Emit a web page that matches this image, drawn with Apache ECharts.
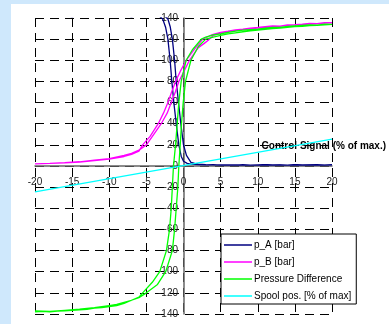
<!DOCTYPE html>
<html>
<head>
<meta charset="utf-8">
<script src="https://cdn.jsdelivr.net/npm/echarts@6/dist/echarts.min.js"></script>
<style>
html,body{margin:0;padding:0;background:#cfe8fc;}
#c{width:389px;height:324px;}
</style>
</head>
<body>
<div id="c"></div>
<script>
const xTicks = [-20, -15, -10, -5, 0, 5, 10, 15, 20];
const yTicks = [-140, -120, -100, -80, -60, -40, -20, 0, 20, 40, 60, 80, 100, 120, 140];
const seriesNames = ['p_A [bar]', 'p_B [bar]', 'Pressure Difference', 'Spool pos. [% of max]'];
const axisName = 'Control Signal (% of max.)';

// p_A: forward branch then return branch (hysteresis)
const pA = [
  [-20,142],[-19,141.5],[-18,142.2],[-17,141.6],[-16,142],[-15,141.4],[-14,142.1],[-13,141.7],[-12,142],[-11,141.5],[-10,142.2],[-9,141.6],[-8,142],[-7,141.4],[-6,142],[-5,141.6],[-4,142],[-3.2,141.5],[-2.8,139],[-2.4,131],[-2.1,120],[-1.8,100],[-1.57,80],[-1.3,60],[-0.98,40],[-0.63,20],[-0.3,9],[0,4.5],[0.5,2.5],[1,1.8],[2,1.3],[3,1],[4,1.2],[5,0.8],[6,1.1],[7,0.9],[8,1.2],[9,0.8],[10,1],[11,1.2],[12,0.8],[13,1.1],[14,0.9],[15,1.2],[16,0.8],[17,1],[18,1.2],[19,0.9],[20,1],
  [20,1],[18,0.9],[16,1.1],[14,0.9],[12,1.1],[10,0.9],[8,1.1],[6,1],[4,1.1],[3,1.3],[2,1.8],[1.5,2.5],[1,3.5],[0.8,5],[0.4,10],[0,20],[-0.36,40],[-0.67,60],[-0.98,80],[-1.2,100],[-1.5,120],[-1.8,132],[-2.1,139],[-2.5,141.5],[-3,142],[-4,141.6],[-5,142.2],[-6,141.6],[-7,142],[-8,141.5],[-9,142.1],[-10,141.7],[-11,142],[-12,141.6],[-13,142.2],[-14,141.5],[-15,142],[-16,141.7],[-17,142.1],[-18,141.6],[-19,142],[-20,142]
];

// p_B
const pB = [
  [-20,2],[-18,2.5],[-16,3],[-14,3.8],[-12,5],[-10,6.5],[-8,9],[-7,11],[-6,14],[-5.5,20],[-4.5,28],[-3.4,40],[-2.7,50],[-2.1,60],[-1.6,70],[-1.07,80],[-0.4,90],[0.36,100],[1.2,108],[2,115],[2.6,120],[3.5,123],[4,124.5],[5,126.5],[6,127.5],[7,128.8],[8,129.5],[9,130.5],[10,131],[11,131.8],[12,132.5],[13,132.4],[14,133.5],[15,133.8],[16,134.2],[17,134.8],[18,134.6],[19,135.6],[20,135.5],
  [20,135],[19,135.2],[18,134.5],[17,134.3],[16,133.8],[15,133.4],[14,133],[13,132.2],[12,131.8],[11,131],[10,130.5],[9,129.8],[8,129],[7,128],[6,127],[5,125.5],[4,123.5],[3.5,120],[2.8,116],[2,112],[1.4,106],[0.8,100],[0.1,90],[-0.63,80],[-1.1,70],[-1.65,60],[-2.2,50],[-3.0,40],[-4,30],[-5.0,20],[-6,15],[-7,12],[-8,10],[-10,7],[-12,5.5],[-14,4],[-16,3.2],[-18,2.5],[-20,2]
];

// Pressure difference
const pDiff = [
  [-20,-138],[-19,-137.5],[-18,-138],[-17,-137.2],[-16,-137],[-15,-136.5],[-14,-136],[-13,-135.5],[-12,-134.5],[-11,-134],[-10,-133],[-9,-132],[-8,-130],[-7,-127],[-6,-124],[-5.5,-120],[-4.2,-110],[-3.2,-100],[-2.3,-80],[-1.88,-60],[-1.65,-40],[-1.5,-20],[-1.35,0],[-1.07,20],[-0.85,40],[-0.63,60],[-0.31,80],[0.36,100],[1.2,110],[2.4,120],[3,122],[4,124],[5,125],[6,126.5],[7,127.5],[8,128.5],[9,129],[10,129.5],[11,130.5],[12,131],[13,131],[14,132],[15,132.5],[16,133],[17,133.5],[18,133.3],[19,134.2],[20,134],
  [20,133.5],[19,133.5],[18,133],[17,132.8],[16,132.2],[15,131.8],[14,131.2],[13,130.5],[12,130],[11,129.3],[10,128.5],[9,127.8],[8,127],[7,126],[6,125],[5,123.5],[4,122],[3.0,120],[2,113],[1.0,100],[0.27,80],[-0.04,60],[-0.27,40],[-0.44,20],[-0.63,0],[-0.76,-20],[-0.98,-40],[-1.2,-60],[-1.5,-80],[-2.4,-100],[-3.5,-112],[-5.0,-120],[-6,-124.5],[-7,-127],[-8,-129],[-9,-131],[-10,-132],[-12,-134],[-14,-135.5],[-16,-136.5],[-18,-137.5],[-20,-137]
];

// Spool position
const spool = [[-20,-24.5],[20,25.5]];

const colors = ['#000080', '#ff00ff', '#00ff00', '#00ffff'];
const seriesData = [pA, pB, pDiff, spool];

const chart = echarts.init(document.getElementById('c'), null, {renderer: 'canvas'});
const font = 'Arial, "Liberation Sans", sans-serif';

// grid geometry
const G = {left: 35, right: 56, top: 18, bottom: 10};
const W = 389 - G.left - G.right, H = 324 - G.top - G.bottom;
const X_MIN = -20, X_MAX = 20, Y_MIN = -140, Y_MAX = 140;
const yOff = -(0 - X_MIN) / (X_MAX - X_MIN) * W;   // move y axis to x=0
const xOff = -(0 - Y_MIN) / (Y_MAX - Y_MIN) * H;   // move x axis to y=0

chart.setOption({
  backgroundColor: 'transparent',
  animation: false,
  graphic: [{
    type: 'rect', z: -10, silent: true,
    shape: {x: 11, y: 4, width: 378, height: 320},
    style: {fill: '#ffffff'}
  }],
  grid: Object.assign({containLabel: false}, G),
  legend: {
    orient: 'vertical',
    left: 221, top: 234,
    data: seriesNames,
    itemWidth: 28, itemHeight: 10, itemGap: 7,
    padding: [6, 5, 3, 3],
    backgroundColor: '#ffffff',
    borderColor: '#000000', borderWidth: 1, borderRadius: 0,
    textStyle: {fontFamily: font, fontSize: 10, color: '#000', padding: [0,0,0,-3]},
    icon: 'path://M0,4.25 L28,4.25 L28,5.75 L0,5.75 Z'
  },
  xAxis: {
    type: 'value', min: X_MIN, max: X_MAX, interval: 5,
    position: 'bottom', offset: xOff,
    name: axisName,
    nameLocation: 'end', nameGap: 54,
    nameTextStyle: {fontFamily: font, fontSize: 10, fontWeight: 'bold', color: '#000',
      align: 'right', verticalAlign: 'bottom', padding: [0, 0, 15, 0]},
    axisLine: {onZero: false, lineStyle: {color: '#666', width: 1.5}},
    axisTick: {show: false},
    axisLabel: {fontFamily: font, fontSize: 10, color: '#222', margin: 11,
      formatter: v => xTicks.includes(v) ? String(v) : ''},
    splitLine: {show: true, lineStyle: {color: '#000', width: 1, type: [9, 6]}}
  },
  yAxis: {
    type: 'value', min: Y_MIN, max: Y_MAX, interval: 20,
    position: 'left', offset: yOff,
    axisLine: {onZero: false, lineStyle: {color: '#666', width: 1.5}},
    axisTick: {show: false},
    axisLabel: {fontFamily: font, fontSize: 10, color: '#222', margin: 6,
      formatter: v => yTicks.includes(v) ? String(v) : ''},
    splitLine: {show: true, lineStyle: {color: '#000', width: 1, type: [9, 6]}}
  },
  series: seriesNames.map((n, i) => ({
    name: n, type: 'line', data: seriesData[i],
    symbol: 'none', smooth: false,
    lineStyle: {color: colors[i], width: 1.3},
    itemStyle: {color: colors[i]},
    z: i === 3 ? 3 : 2
  }))
});
</script>
</body>
</html>
